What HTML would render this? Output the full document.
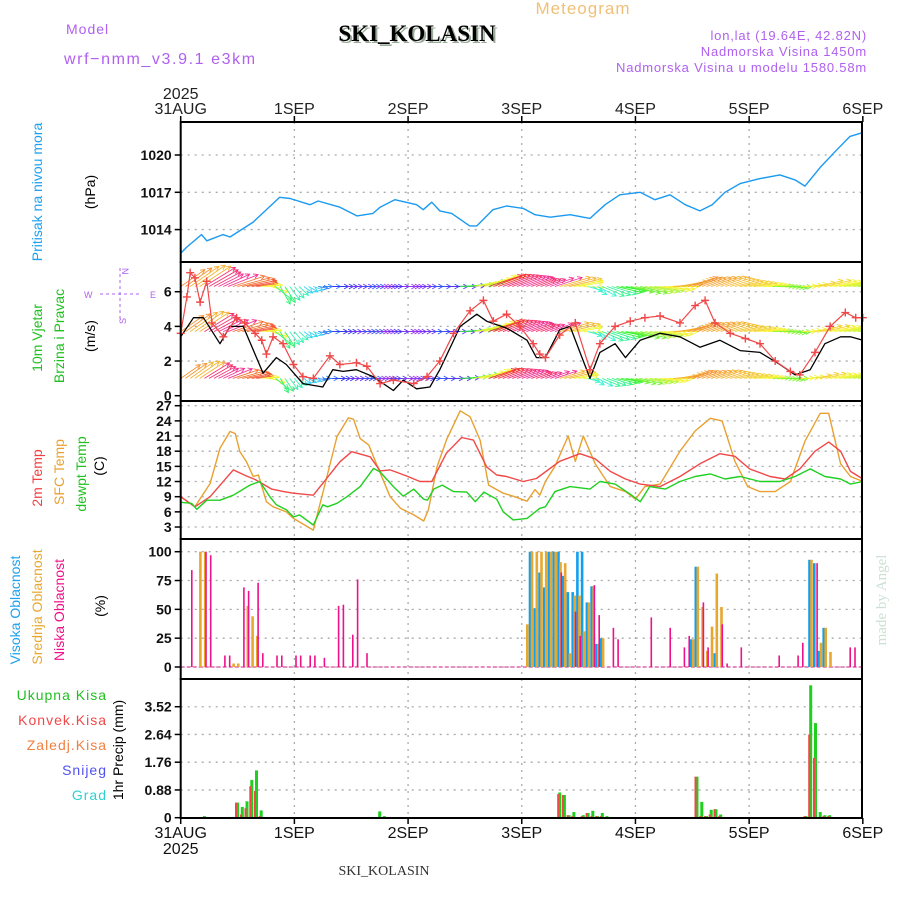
<!DOCTYPE html>
<html><head><meta charset="utf-8"><title>Meteogram SKI_KOLASIN</title>
<style>
html,body{margin:0;padding:0;background:#fff;}
svg{display:block;font-family:"Liberation Sans",sans-serif;}
</style></head>
<body>
<svg id="chart" width="900" height="900" viewBox="0 0 900 900" xmlns="http://www.w3.org/2000/svg">
<defs><clipPath id="windclip"><rect x="181" y="263" width="681" height="137"/></clipPath></defs>
<g>
<text x="583" y="14" font-size="17" fill="#f0c078" text-anchor="middle" letter-spacing="1">Meteogram</text>
<text x="66" y="34" font-size="14" fill="#b060f0" letter-spacing="1">Model</text>
<text x="64" y="64" font-size="16" fill="#b060f0" letter-spacing="1.6">wrf−nmm_v3.9.1 e3km</text>
<text x="419" y="43" font-size="23" font-weight="bold" fill="#9a9" text-anchor="middle" font-family="Liberation Serif,serif">SKI_KOLASIN</text>
<text x="417" y="41" font-size="23" font-weight="bold" fill="#000" text-anchor="middle" font-family="Liberation Serif,serif">SKI_KOLASIN</text>
<text x="867" y="40" font-size="13" fill="#b060f0" text-anchor="end" letter-spacing="0.8">lon,lat (19.64E, 42.82N)</text>
<text x="867" y="56" font-size="13" fill="#b060f0" text-anchor="end" letter-spacing="0.8">Nadmorska Visina 1450m</text>
<text x="867" y="72" font-size="13" fill="#b060f0" text-anchor="end" letter-spacing="0.8">Nadmorska Visina u modelu 1580.58m</text>
<text x="384" y="875" font-size="14" fill="#333" text-anchor="middle" font-family="Liberation Serif,serif">SKI_KOLASIN</text>
<text transform="translate(886,600) rotate(-90)" font-size="15" fill="#cde0d4" text-anchor="middle" font-family="Liberation Serif,serif">made by Angel</text>
</g>
<g font-size="14">
<text transform="translate(42,192) rotate(-90)" fill="#1ea0f0" text-anchor="middle">Pritisak na nivou mora</text>
<text transform="translate(95,192) rotate(-90)" fill="#000" text-anchor="middle">(hPa)</text>
<text transform="translate(42,338) rotate(-90)" fill="#20c020" text-anchor="middle">10m Vjetar</text>
<text transform="translate(64,336) rotate(-90)" fill="#20c020" text-anchor="middle">Brzina i Pravac</text>
<text transform="translate(95,336) rotate(-90)" fill="#000" text-anchor="middle">(m/s)</text>
<text transform="translate(42,478) rotate(-90)" fill="#f04040" text-anchor="middle">2m Temp</text>
<text transform="translate(64,472) rotate(-90)" fill="#e8a030" text-anchor="middle">SFC Temp</text>
<text transform="translate(86,474) rotate(-90)" fill="#20c020" text-anchor="middle">dewpt Temp</text>
<text transform="translate(104,466) rotate(-90)" fill="#000" text-anchor="middle">(C)</text>
<text transform="translate(20,610) rotate(-90)" fill="#1ea0f0" text-anchor="middle">Visoka Oblacnost</text>
<text transform="translate(42,607) rotate(-90)" fill="#e8a830" text-anchor="middle">Srednja Oblacnost</text>
<text transform="translate(64,610) rotate(-90)" fill="#f0108a" text-anchor="middle">Niska Oblacnost</text>
<text transform="translate(105,606) rotate(-90)" fill="#000" text-anchor="middle">(%)</text>
<text x="107" y="700" fill="#20c020" text-anchor="end" letter-spacing="1">Ukupna  Kisa</text>
<text x="107" y="725" fill="#f04848" text-anchor="end" letter-spacing="1">Konvek.Kisa</text>
<text x="107" y="750" fill="#f08040" text-anchor="end" letter-spacing="1">Zaledj.Kisa</text>
<text x="107" y="775" fill="#5050f0" text-anchor="end" letter-spacing="1">Snijeg</text>
<text x="107" y="800" fill="#30d0d0" text-anchor="end" letter-spacing="1">Grad</text>
<text transform="translate(123,750) rotate(-90)" fill="#000" text-anchor="middle">1hr Precip (mm)</text>
</g>
<g fill="#b060f0" stroke="#b060f0" font-size="9">
<line x1="120" y1="268" x2="120" y2="322" stroke-dasharray="3,3"/>
<line x1="100" y1="294" x2="142" y2="294" stroke-dasharray="3,3"/>
<text x="122" y="268" stroke="none" transform="rotate(90 122 268)">N</text>
<text x="84" y="298" stroke="none">W</text>
<text x="150" y="298" stroke="none">E</text>
<text x="116" y="322" stroke="none" transform="rotate(-90 122 318)">S</text>
</g>
<g id="plots"></g>
</svg>
<script>
// ---------------- data ----------------
const dayLabels = ["31AUG","1SEP","2SEP","3SEP","4SEP","5SEP","6SEP"];
const pressureTicks = [1014, 1017, 1020];
const windTicks = [0, 2, 4, 6];
const tempTicks = [3, 6, 9, 12, 15, 18, 21, 24, 27];
const cloudTicks = [0, 25, 50, 75, 100];
const precipTicks = [0, 0.88, 1.76, 2.64, 3.52];

const pressHours = [0,1.3,4.4,5.5,8.9,10.4,15.3,20.9,23.1,27.3,29,33.6,37.2,40.6,42.1,45.2,49.8,51.2,53,54.7,57.2,61,62.5,65.9,68.8,72.3,74.8,78,82.2,86.4,89.6,92.7,97,100.1,103.3,106.5,109.6,112.2,114.9,118.1,122.3,126.5,129.7,131.8,135,138.2,141.3,144];
const pressVals = [1012.1,1012.6,1013.6,1013.1,1013.6,1013.4,1014.6,1016.6,1016.5,1016.0,1016.3,1015.8,1015.1,1015.3,1015.8,1016.4,1016.0,1015.6,1016.2,1015.5,1015.3,1014.3,1014.3,1015.6,1015.9,1015.7,1015.2,1015.0,1015.2,1014.9,1016.0,1016.8,1017.0,1016.4,1016.8,1016.0,1015.5,1016.0,1017.0,1017.7,1018.1,1018.4,1018.0,1017.5,1019.0,1020.3,1021.5,1021.8];

const speedHours = [0,2.7,4.8,8.3,10.4,13.2,16,17.4,20.2,22.3,25.8,30,32.1,34.3,37.1,40.6,44.9,47,49.8,52.6,54.7,59,62.5,64.6,68.8,73.1,75.1,77,80,82.2,84.3,86.4,88.5,91.7,93.9,97,101.2,105.4,109.6,113.8,118.1,122.3,126.5,129.7,132.9,136,139.3,141.4,144];
const speedVals = [3.4,4.5,4.5,3.0,4.0,4.0,2.2,1.3,2.2,1.8,0.7,0.5,1.5,1.4,1.5,1.1,0.3,0.9,0.4,0.5,1.5,4.0,4.7,4.3,3.9,3.2,2.2,2.2,3.8,4.0,2.5,1.0,2.5,3.0,2.2,3.2,3.6,3.4,2.8,3.2,2.6,2.5,1.8,1.2,1.5,3.0,3.4,3.4,3.2];

const gustHours = [0,1.3,2,3,4.1,5.5,6.6,9,11.8,13.5,15.7,17.1,18.1,19.5,21.6,23.8,25.8,28,31.5,33.6,37.1,39.3,42.1,44.9,49.2,52,54.7,57.6,61.1,63.9,66,68.8,71.6,74.4,75.8,77,80,83.3,86.4,88.5,91.7,94.9,98,101.2,105.4,108.6,110.7,112.8,116,119.2,122.3,125.5,128.7,130.7,133.9,137.1,140.3,142.5,144];
const gustVals = [3.6,5.7,7.1,6.8,5.4,6.6,4.2,3.4,4.5,4.2,3.6,3.2,2.4,3.4,3.0,1.8,1.1,1.0,2.3,1.8,1.9,1.7,0.7,0.9,0.7,1.1,2.0,3.6,4.9,5.5,4.3,4.7,4.0,3.0,2.4,2.2,3.5,4.2,1.5,3.0,4.0,4.3,4.5,4.6,4.2,5.2,5.5,4.2,3.6,3.3,3.0,2.0,1.4,1.2,2.5,4.0,4.8,4.5,4.5];

// wind direction (screen angle deg, 0=toward east) and colour hue every 3 h
const windDirs = [35,35,30,25,15,10,5,-60,-50,-30,0,0,0,0,0,0,0,0,0,0,5,15,20,20,20,20,20,15,10,-30,-20,-10,-15,-10,-5,10,20,20,20,15,10,5,0,-5,5,15,10,10,5];
const windHues = [30,40,340,330,20,10,60,140,160,190,215,240,260,230,270,250,270,260,230,250,120,60,0,340,330,340,330,40,60,170,150,120,100,80,60,40,30,35,40,45,50,60,90,100,60,50,60,70,80];
const windRowLevels = [1, 3.7, 6.3];

const t2Hours = [0,3,6.2,11.1,13.9,15.7,19.2,21.7,23.8,28,33.6,36.1,40,42.1,44.2,47.7,50.5,53,56.1,59.3,61.8,64.6,66.7,68.8,72.3,75.1,80,84.3,87.5,90.7,93.9,97,101.2,105.4,109.6,113.8,117,120.1,124.4,127.6,130.7,133.9,136.8,139.3,141.4,144];
const t2Vals = [9,7,9,14.3,13.1,12.4,10.5,10,9.7,9.3,15.9,17.9,16.9,14.1,14.3,13.1,12,12,17.6,20.7,20.2,14.9,13.3,13,12,12.6,16,17.5,16.5,14,12.5,11.5,11,13,15.5,17.5,17,14.5,13,12.5,14.5,18,19.8,18,14,12.5];

const sfcHours = [0,3,6.2,8.3,10.4,11.5,12.5,13.9,15.3,16.4,18.1,19.5,22.3,23.8,28,30.5,33,35.4,36.5,37.9,39.7,41.4,44.2,46.4,49.2,51.3,52.3,54.1,56.1,59,61.1,63.2,65,68.1,70.2,73.1,74.8,75.8,77,79,81.8,83.3,85,87.5,90.7,93.9,96,98,101.2,105.4,108.6,111.8,114.3,117,119.7,122.3,125.5,128.7,131.8,135,136.8,139.3,141.4,144];
const sfcVals = [9,7,11.6,18.6,21.9,21.5,17.9,15.9,13,13.3,8,7,6,4.7,2.4,11.6,20.9,24.6,24.3,20.5,19.2,15.3,9,6.7,5.4,4.2,6.4,14.9,20.2,26,24.8,20.2,11.3,9.7,9.1,8.1,10.4,9.3,12,15,21,16,21,15.5,11,10,8.5,11,11.5,18,22,24.5,24,16,11,10,10,12,20,25.5,25.5,15.5,13,12];

const dewHours = [0,2.3,3.4,5.5,8.3,11.1,14.6,16.7,18.8,20.2,22.3,23.8,25.1,28,30,31,33,35.1,37.9,40.7,42.1,44.9,47,49.2,51.3,52.1,53.4,55.2,57.6,60.4,62.2,64,66.7,68.1,70.2,73.1,75.8,77,79,82.2,86.4,88.5,91.7,94.9,97,99,102.3,105.4,108.6,111.8,114.9,118.1,122.3,126.5,129.7,132.9,136,139.3,141.4,144];
const dewVals = [7.9,7.7,6.5,8.3,8.3,9.3,11.3,12,9,7.4,6.4,5,5.4,3.4,7.4,7,7.7,9,11,14.6,13.9,11,9.1,10.5,8.5,8.3,10.5,11.3,10,9.9,8,9.9,8.5,6,4.4,4.7,6.7,7,10,11,10.5,12,11.5,9.5,8,11,10.5,12,13,13.5,12.5,13,12,12,13,14.5,13,12.5,11.5,12];

// cloud cover bars (hour, %)
const lowHours = [2,5,6,9,10,13,14,16,17,20,21,24,25,27,28,30,33,34,36,37,39,80,83,84,87,88,91,92,99,103,106,107,110,111,114,115,118,126,130,131,134,141,142];
const lowVals  = [84,100,97,10,10,69,66,73,12,10,10,10,10,10,10,8,53,54,28,76,12,82,48,27,71,45,34,24,43,34,17,27,56,17,37,3,17,10,10,21,90,17,17];
const midHours = [4,5,11,12,14,15,16,73,74,75,76,77,78,79,80,81,82,83,84,85,86,87,88,89,108,109,110,111,112,113,114,133,135,136,137];
const midVals  = [100,100,3,3,53,44,27,37,100,100,100,100,100,100,91,90,12,62,62,31,56,70,20,25,24,87,52,14,35,81,52,93,21,34,13];
const highHours = [74,75,76,77,78,79,80,81,82,83,84,85,86,87,88,89,108,109,113,133,134,135,136];
const highVals  = [100,51,82,69,100,100,100,79,65,65,100,100,56,70,20,25,24,87,12,93,90,14,34];

// precipitation (hour, total mm, convective mm)
const precipHours = [5,12,13,14,15,16,17,42,43,80,81,82,83,85,86,87,88,89,90,109,110,111,112,113,114,132,133,134,135,136,137];
const totalPrecip = [0.05,0.48,0.34,0.52,1.2,1.5,0.23,0.2,0.05,0.8,0.72,0.08,0.18,0.08,0.15,0.22,0.05,0.15,0.05,1.3,0.5,0.05,0.25,0.27,0.1,0.05,4.2,3.0,0.18,0.08,0.08];
const convPrecip  = [0,0.48,0.1,0.3,1.0,0.85,0.05,0,0,0.75,0.72,0.08,0.05,0.05,0.15,0.05,0.05,0.05,0,1.3,0.05,0.05,0.1,0.27,0.05,0.05,2.64,1.9,0,0.05,0.05];

// ---------------- axes ----------------
const X0 = 180.7, PXH = 4.737;
const xs = h => X0 + h * PXH;
const yP = p => 155 + (1020 - p) * 12.43;
const yW = v => 395.7 - v * 17.33;
const yT = t => 405.7 + (27 - t) * 5.055;
const yC = c => 667 - c * 1.153;
const yR = r => 817.7 - r * 31.53;
const XR = 862;
const panels = [
  {name:'pressure', top:122, bot:262, ticks:pressureTicks, fy:yP, fmt:v=>String(v)},
  {name:'wind', top:262, bot:401, ticks:windTicks, fy:yW, fmt:v=>String(v)},
  {name:'temp', top:401, bot:539, ticks:tempTicks, fy:yT, fmt:v=>String(v)},
  {name:'cloud', top:539, bot:679, ticks:cloudTicks, fy:yC, fmt:v=>String(v)},
  {name:'precip', top:679, bot:818, ticks:precipTicks, fy:yR, fmt:v=>v===0?'0':v.toFixed(2)}
];
const NS = 'http://www.w3.org/2000/svg';
const root = document.getElementById('plots');
function mk(tag, attrs, parent) {
  const e = document.createElementNS(NS, tag);
  for (const k in attrs) e.setAttribute(k, attrs[k]);
  (parent || root).appendChild(e);
  return e;
}
function lerp(hs, vs, h) {
  if (h <= hs[0]) return vs[0];
  for (let i = 1; i < hs.length; i++) if (h <= hs[i]) {
    const f = (h - hs[i-1]) / (hs[i] - hs[i-1]); return vs[i-1] + f * (vs[i] - vs[i-1]);
  }
  return vs[vs.length-1];
}

// grids and ticks
panels.forEach(p => {
  const g = mk('g', {});
  
  
  for (let d = 1; d < 6; d++) {
    const l = mk('line', {x1:xs(d*24), x2:xs(d*24), y1:p.top, y2:p.bot, stroke:'#aaa', 'stroke-width':1.3, 'stroke-dasharray':'2,5'}, g);
    
    
  }
  p.ticks.forEach(v => {
    const y = p.fy(v);
    if (v !== 0 || p.name === 'cloud') {
      const l = mk('line', {x1:X0, x2:XR, y1:y, y2:y, stroke:'#aaa', 'stroke-width':1.3, 'stroke-dasharray':'2,5'}, g);
      
      
    }
    mk('line', {x1:X0-6, x2:X0, y1:y, y2:y, stroke:'#000', 'stroke-width':1.5}, g);
    const t = mk('text', {x:X0-9, y:y+5, 'font-size':14, 'font-weight':'bold', 'text-anchor':'end', fill:'#111'}, g);
    t.textContent = p.fmt(v);
    
    
  });
});

function polyline(hs, vs, fy, color, name, w) {
  const pts = hs.map((h, i) => xs(h).toFixed(1) + ',' + fy(vs[i]).toFixed(1)).join(' ');
  const pl = mk('polyline', {points:pts, fill:'none', stroke:color, 'stroke-width':w || 1.4, 'stroke-linejoin':'round'});
  
  
  return pl;
}

// pressure
polyline(pressHours, pressVals, yP, '#1a9af0', 'pressure-line');

// wind arrows
const arrowG = mk('g', {'clip-path':'url(#windclip)'});


windRowLevels.forEach((lev, ri) => {
  for (let h = 0; h <= 144; h++) {
    const ang = lerp(windDirs.map((_, i) => i*3), windDirs, h) * Math.PI / 180;
    const hue = windHues[Math.round(h/3)];
    const spd = lerp(speedHours, speedVals, h);
    const L = Math.min(40, 6 + spd * 6.5) * [0.85, 1, 1.05][ri];
    const x1 = xs(h), y1 = yW(lev);
    const x2 = x1 + L * Math.cos(ang), y2 = y1 - L * Math.sin(ang);
    const col = 'hsl(' + hue + ',90%,58%)';
    const a = mk('path', {d:`M${x1.toFixed(1)},${y1.toFixed(1)}L${x2.toFixed(1)},${y2.toFixed(1)}` +
      `M${(x2-5*Math.cos(ang-0.5)).toFixed(1)},${(y2+5*Math.sin(ang-0.5)).toFixed(1)}L${x2.toFixed(1)},${y2.toFixed(1)}L${(x2-5*Math.cos(ang+0.5)).toFixed(1)},${(y2+5*Math.sin(ang+0.5)).toFixed(1)}`,
      stroke:col, 'stroke-width':0.9, fill:'none'}, arrowG);
    
    
  }
});
polyline(speedHours, speedVals, yW, '#000', 'wind-speed-line', 1.3);
polyline(gustHours, gustVals, yW, '#f04848', 'wind-gust-line', 1.2);
gustHours.forEach((h, i) => {
  const x = xs(h), y = yW(gustVals[i]);
  const m = mk('path', {d:`M${x-4},${y}H${x+4}M${x},${y-4}V${y+4}`, stroke:'#f04848', 'stroke-width':1.4});
  
  
});

// temperatures
polyline(sfcHours, sfcVals, yT, '#e8a030', 'sfc-temp-line');
polyline(t2Hours, t2Vals, yT, '#f04848', 'temp-2m-line');
polyline(dewHours, dewVals, yT, '#20d020', 'dewpoint-line');

// cloud bars
const zl = mk('line', {x1:X0, x2:XR, y1:yC(0), y2:yC(0), stroke:'#e06ab0', 'stroke-width':1.5, 'stroke-dasharray':'4,2'});


function bars(hs, vs, fy, color, dx, w, name) {
  hs.forEach((h, i) => {
    if (vs[i] <= 0) return;
    const y = fy(vs[i]);
    const r = mk('rect', {x:(xs(h)+dx).toFixed(1), y:y.toFixed(1), width:w, height:(fy(0)-y).toFixed(1), fill:color});
    
    
  });
}
bars(highHours, highVals, yC, '#10a0f0', -2.5, 2.6, 'high-cloud-bar');
bars(midHours, midVals, yC, '#e8a830', -0.5, 2.6, 'mid-cloud-bar');
bars(lowHours, lowVals, yC, '#f0108a', 0.8, 1.6, 'low-cloud-bar');

// precipitation bars
bars(precipHours, totalPrecip, yR, '#20d020', -1.5, 3, 'total-precip-bar');
bars(precipHours, convPrecip, yR, '#f04848', -2.5, 2, 'conv-precip-bar');

// panel borders
panels.forEach(p => {
  const r = mk('rect', {x:X0, y:p.top, width:XR-X0, height:p.bot-p.top, fill:'none', stroke:'#000', 'stroke-width':2});
  
  
});

// time axis labels
dayLabels.forEach((lab, d) => {
  const x = xs(d*24);
  mk('line', {x1:x, x2:x, y1:116, y2:122, stroke:'#000', 'stroke-width':1.5});
  mk('line', {x1:x, x2:x, y1:818, y2:824, stroke:'#000', 'stroke-width':1.5});
  const t1 = mk('text', {x:x, y:114, 'font-size':16, 'text-anchor':'middle', fill:'#222'});
  t1.textContent = lab;
  
  
  const t2 = mk('text', {x:x, y:838, 'font-size':16, 'text-anchor':'middle', fill:'#111'});
  t2.textContent = lab;
  
  
});
const yr1 = mk('text', {x:X0, y:99, 'font-size':16, 'text-anchor':'middle', fill:'#222'});
yr1.textContent = '2025';


const yr2 = mk('text', {x:X0, y:854, 'font-size':16, 'text-anchor':'middle', fill:'#111'});
yr2.textContent = '2025';


</script>
</body></html>
